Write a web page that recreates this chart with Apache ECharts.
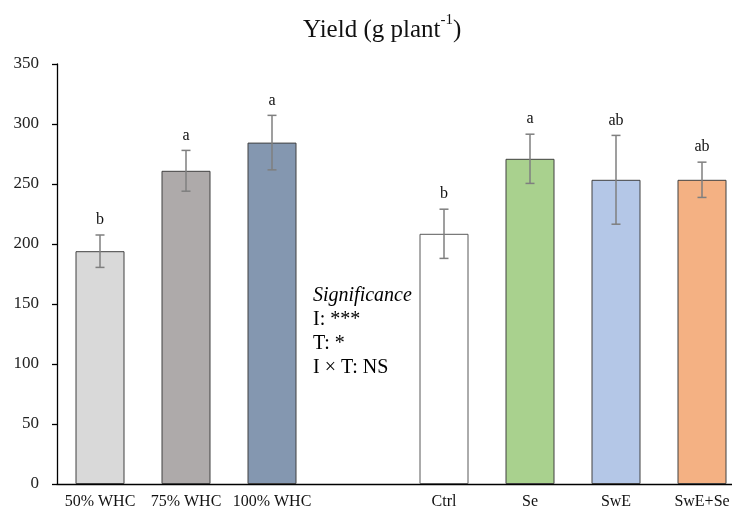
<!DOCTYPE html>
<html>
<head>
<meta charset="utf-8">
<script src="https://cdn.jsdelivr.net/npm/echarts@6/dist/echarts.min.js"></script>
<style>html,body{margin:0;padding:0;background:#fff;overflow:hidden;width:732px;height:510px}#c{width:746px;height:510px}</style>
</head>
<body>
<div id="c"></div>
<script>
const categories = ['50% WHC', '75% WHC', '100% WHC', '', 'Ctrl', 'Se', 'SwE', 'SwE+Se'];
const means = [194, 261, 284.5, null, 208.5, 271, 253.5, 253.5];
const errors = [13.5, 17, 22.7, null, 20.5, 20.5, 37, 14.7];
const letters = ['b', 'a', 'a', '', 'b', 'a', 'ab', 'ab'];
const barColors = ['#d9d9d9', '#aeaaaa', '#8497b0', '#ffffff', '#ffffff', '#a9d18e', '#b4c7e7', '#f4b183'];
const borderColors = ['#404040', '#404040', '#404040', '#404040', '#595959', '#404040', '#404040', '#404040'];
const yTicks = { min: 0, max: 350, interval: 50 };

const FONT = '"Liberation Serif","Times New Roman",serif';
const chart = echarts.init(document.getElementById('c'), null, { renderer: 'canvas' });

const barData = means.map((v, i) => ({
  value: v,
  itemStyle: { color: barColors[i], borderColor: borderColors[i], borderWidth: 1 }
}));
const errData = means.map((v, i) => [i, v, errors[i], letters[i]]).filter(d => d[1] != null);

chart.setOption({
  animation: false,
  backgroundColor: '#ffffff',
  title: {
    text: '{a|Yield (g plant}{s|-1}{a|)}',
    left: 298, top: 8,
    textStyle: {
      fontWeight: 'normal',
      rich: {
        a: { fontFamily: FONT, fontSize: 25, fontWeight: 'normal', color: '#111', verticalAlign: 'bottom', lineHeight: 30 },
        s: { fontFamily: FONT, fontSize: 15, fontWeight: 'normal', color: '#111', verticalAlign: 'top', padding: [0, 0, 10, 0], lineHeight: 30 }
      }
    }
  },
  grid: { left: 57, top: 64, width: 688, height: 420, containLabel: false },
  xAxis: {
    type: 'category',
    data: categories,
    axisLine: { lineStyle: { color: '#000', width: 1.3 } },
    axisTick: { show: false },
    axisLabel: { fontFamily: FONT, fontSize: 16, color: '#111', margin: 10, interval: 0 }
  },
  yAxis: {
    type: 'value',
    min: yTicks.min, max: yTicks.max, interval: yTicks.interval,
    axisLine: { show: true, lineStyle: { color: '#000', width: 1.3 } },
    axisTick: { show: true, length: 5, lineStyle: { color: '#000', width: 1.3 } },
    splitLine: { show: false },
    axisLabel: { fontFamily: FONT, fontSize: 17, color: '#222', margin: 18 }
  },
  graphic: [{
    type: 'text',
    left: 313, top: 286,
    style: {
      text: '{i|Significance}\n{n|I: ***}\n{n|T: *}\n{n|I × T: NS}',
      rich: {
        i: { fontFamily: FONT, fontSize: 20, fontStyle: 'italic', color: '#111', lineHeight: 24 },
        n: { fontFamily: FONT, fontSize: 20, color: '#111', lineHeight: 24 }
      }
    }
  }],
  series: [
    {
      type: 'bar',
      data: barData,
      barWidth: 49,
      z: 2
    },
    {
      type: 'custom',
      z: 5,
      data: errData,
      renderItem: function (params, api) {
        const x = api.value(0), m = api.value(1), e = api.value(2);
        const top = api.coord([x, m + e]);
        const bot = api.coord([x, m - e]);
        const cap = 4.5;
        const ls = { stroke: '#7f7f7f', lineWidth: 1.5 };
        return {
          type: 'group',
          children: [
            { type: 'line', shape: { x1: top[0], y1: top[1], x2: bot[0], y2: bot[1] }, style: ls },
            { type: 'line', shape: { x1: top[0] - cap, y1: top[1], x2: top[0] + cap, y2: top[1] }, style: ls },
            { type: 'line', shape: { x1: bot[0] - cap, y1: bot[1], x2: bot[0] + cap, y2: bot[1] }, style: ls },
            { type: 'text', style: { text: String(errData[params.dataIndex][3]), x: top[0], y: top[1] - 7,
                align: 'center', verticalAlign: 'bottom', fontFamily: FONT, fontSize: 16, fill: '#111' } }
          ]
        };
      }
    }
  ]
});
</script>
</body>
</html>
